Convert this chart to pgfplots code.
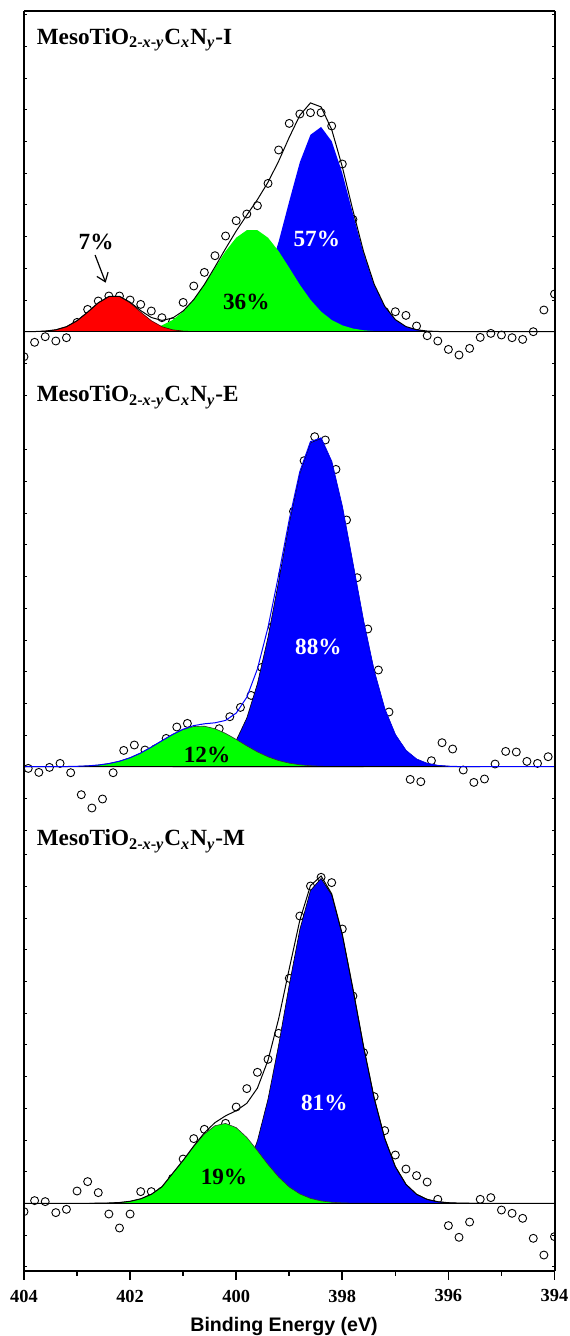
\documentclass[border=0pt]{standalone}
\usepackage{fontspec}
\setmainfont{Liberation Serif}
\setsansfont{Liberation Sans}
\usepackage{pgfplots}
\pgfplotsset{compat=1.18}
\usetikzlibrary{arrows.meta}
\definecolor{pblue}{RGB}{0,0,255}
\definecolor{pgreen}{RGB}{0,255,0}
\definecolor{pred}{RGB}{255,0,0}
\pgfplotsset{
  panel/.style={
    scale only axis, width=265.25pt,
    xmin=394, xmax=404, x dir=reverse,
    xtick=\empty,
    ytick distance=31.7, yticklabels={},
    major tick length=1.4pt,
    ytick style={black, line width=0.4pt},
    axis line style={draw=none},
    clip marker paths=true,
  },
  datapts/.style={only marks, mark=o, mark size=2pt, mark options={black, line width=0.45pt}},
}
\newcommand{\pct}{\bfseries\fontsize{11.6}{12}\selectfont}
\newcommand{\lbl}[1]{\bfseries\fontsize{11.6}{13}\selectfont MesoTiO\textsubscript{2-\textit{x}-\textit{y}}C\textsubscript{\textit{x}}N\textsubscript{\textit{y}}-#1}
\begin{document}
\begin{tikzpicture}
\path[use as bounding box] (0,0) rectangle (284.5pt,-668pt);
% ---------------- Panel 1 (I)
\begin{axis}[panel, name=p1, at={(12pt,-5.5pt)}, anchor=north west, height=206pt, ymin=-91.3, ymax=320.7]
\addplot[datapts] coordinates {(404.0,-25) (403.8,-10.6) (403.6,-5) (403.4,-9.3) (403.2,-6) (403.0,9.3) (402.8,22.3) (402.6,30.7) (402.4,35.7) (402.2,35.7) (402.0,31.7) (401.8,27.3) (401.6,20.7) (401.4,14) (401.2,10) (401.0,29.3) (400.8,45.7) (400.6,59.3) (400.4,76) (400.2,95.7) (400.0,111) (399.8,117.7) (399.6,126) (399.4,148.3) (399.2,181.7) (399.0,208.3) (398.8,217.7) (398.6,219) (398.4,219) (398.2,205.7) (398.0,167.7) (397.8,112.3) (397.6,60) (397.4,35) (397.2,20) (397.0,20) (396.8,16.3) (396.6,5.7) (396.4,-4) (396.2,-9.3) (396.0,-17.7) (395.8,-23.3) (395.6,-16.7) (395.4,-5.7) (395.2,-1.7) (395.0,-3.3) (394.8,-6) (394.6,-7.7) (394.4,0) (394.2,21.7) (394.0,37.7)};
\addplot[draw=none, fill=pblue] coordinates {(401.2,0) (401.0,0.02) (400.8,0.08) (400.6,0.3) (400.4,0.94) (400.2,2.64) (400.0,6.68) (399.8,15.1) (399.6,30.6) (399.4,55.5) (399.2,90.0) (399.0,130.5) (398.8,169.5) (398.6,196.9) (398.4,204.7) (398.2,190.5) (398.0,158.6) (397.8,118.1) (397.6,78.7) (397.4,47.0) (397.2,25.1) (397.0,12.0) (396.8,5.12) (396.6,1.96) (396.4,0.67) (396.2,0.21) (396.0,0.06) (395.8,0)} \closedcycle;
\addplot[draw=none, fill=pgreen] coordinates {(402.6,0) (402.4,0.09) (402.2,0.25) (402.0,0.62) (401.8,1.46) (401.6,3.16) (401.4,6.31) (401.2,11.7) (401.0,20.1) (400.8,31.9) (400.6,46.9) (400.4,63.9) (400.2,80.5) (400.0,94.0) (399.8,101.5) (399.6,101.5) (399.4,94.0) (399.2,80.5) (399.0,63.9) (398.8,46.9) (398.6,31.9) (398.4,20.1) (398.2,11.7) (398.0,6.31) (397.8,3.16) (397.6,1.46) (397.4,0.62) (397.2,0.25) (397.0,0.09) (396.8,0)} \closedcycle;
\addplot[fill=pred, draw=black!70!red, line width=0.3pt] coordinates {(404.0,0) (403.8,0.15) (403.6,0.6) (403.4,1.9) (403.2,5.0) (403.0,11.0) (402.8,19.6) (402.6,28.9) (402.4,35.1) (402.2,35.1) (402.0,28.9) (401.8,19.6) (401.6,11.0) (401.4,5.0) (401.2,1.9) (401.0,0.6) (400.8,0.15) (400.6,0)} \closedcycle;
\addplot[black, line width=0.75pt] coordinates {(394,0) (404,0)};
\addplot[black, line width=0.5pt] coordinates {(404.0,0) (403.8,0.15) (403.6,0.6) (403.4,1.9) (403.2,5.0) (403.0,11.0) (402.8,19.6) (402.6,28.9) (402.4,35.2) (402.2,35.4) (402.0,29.5) (401.8,21.1) (401.6,14.2) (401.4,11.3) (401.2,13.6) (401.0,20.7) (400.8,32.1) (400.6,47.2) (400.4,64.8) (400.2,83.1) (400.0,100.7) (399.8,116.6) (399.6,132.1) (399.4,149.5) (399.2,170.5) (399.0,194.4) (398.8,216.4) (398.6,228.8) (398.4,224.8) (398.2,202.2) (398.0,164.9) (397.8,121.3) (397.6,80.2) (397.4,47.6) (397.2,25.4) (397.0,12.1) (396.8,5.12) (396.6,1.96) (396.4,0.67) (396.2,0.21) (396.0,0.06) (395.8,0) (394.0,0)};
\node[font=\pct] at (axis cs:402.64,90) {7\%};
\node[font=\pct] at (axis cs:399.81,30) {36\%};
\node[font=\pct, text=white] at (axis cs:398.48,92.7) {57\%};
\draw[-{Straight Barb[length=4pt,width=6pt]}, line width=0.6pt] (axis cs:402.66,76.7) -- (axis cs:402.46,49);
\end{axis}
% ---------------- Panel 2 (E)
\begin{axis}[panel, name=p2, at={(12pt,-211.5pt)}, anchor=north west, height=204.5pt, ymin=-65.3, ymax=343.7]
\addplot[datapts] coordinates {(403.92,-1.7) (403.72,-5.7) (403.52,-0.7) (403.32,3.3) (403.12,-6) (402.92,-28) (402.72,-41.3) (402.52,-32.3) (402.32,-6) (402.12,16.3) (401.92,21.7) (401.72,16.7) (401.52,18) (401.32,28.3) (401.12,39.7) (400.92,43.3) (400.72,36) (400.52,35) (400.32,38) (400.12,50) (399.92,59.3) (399.72,71.3) (399.52,99.3) (399.32,140) (399.12,193.3) (398.92,255.3) (398.72,306) (398.52,330) (398.32,326.7) (398.12,297.3) (397.92,246.7) (397.72,189) (397.52,137.7) (397.32,96.7) (397.12,54.7) (396.92,15) (396.72,-12.7) (396.52,-15) (396.32,6) (396.12,24) (395.92,17.7) (395.72,-3.3) (395.52,-15.7) (395.32,-12.3) (395.12,2.7) (394.92,15.3) (394.72,14.7) (394.52,5.3) (394.32,3.3) (394.12,10)};
\addplot[fill=pblue, draw=black, line width=0.3pt] coordinates {(401.2,0) (401.0,0.33) (400.8,0.93) (400.6,2.44) (400.4,5.88) (400.2,13.0) (400.0,26.3) (399.8,48.7) (399.6,83.0) (399.4,129.5) (399.2,185.5) (399.0,243.6) (398.8,293.3) (398.6,324.0) (398.4,328.3) (398.2,305.0) (398.0,259.9) (397.8,203.1) (397.6,145.6) (397.4,95.7) (397.2,57.7) (397.0,31.9) (396.8,16.2) (396.6,7.52) (396.4,3.21) (396.2,1.25) (396.0,0.45) (395.8,0.15) (395.6,0.05) (395.4,0)} \closedcycle;
\addplot[fill=pgreen, draw=black!80, line width=0.3pt] coordinates {(404.0,0) (403.6,0.02) (403.4,0.06) (403.2,0.17) (403.0,0.39) (402.8,0.83) (402.6,1.67) (402.4,3.14) (402.2,5.51) (402.0,9.0) (401.8,13.7) (401.6,19.6) (401.4,26.0) (401.2,32.2) (401.0,37.2) (400.8,40.2) (400.6,40.5) (400.4,38.0) (400.2,33.3) (400.0,27.3) (399.8,20.8) (399.6,14.8) (399.4,9.85) (399.2,6.11) (399.0,3.53) (398.8,1.91) (398.6,0.96) (398.4,0.45) (398.2,0.2) (398.0,0.08) (397.8,0.03) (397.6,0)} \closedcycle;
\addplot[black, line width=0.75pt] coordinates {(394,0) (404,0)};
\addplot[pblue, line width=0.5pt] coordinates {(404.0,0) (403.8,0.01) (403.6,0.02) (403.4,0.06) (403.2,0.17) (403.0,0.39) (402.8,0.83) (402.6,1.67) (402.4,3.14) (402.2,5.51) (402.0,9.0) (401.8,13.7) (401.6,19.6) (401.4,26.0) (401.2,32.2) (401.0,37.5) (400.8,41.1) (400.6,42.9) (400.4,43.9) (400.2,46.3) (400.0,53.6) (399.8,69.5) (399.6,97.8) (399.4,139.4) (399.2,191.6) (399.0,247.1) (398.8,295.2) (398.6,325.0) (398.4,328.8) (398.2,305.2) (398.0,260.0) (397.8,203.1) (397.6,145.6) (397.4,95.7) (397.2,57.7) (397.0,31.9) (396.8,16.2) (396.6,7.52) (396.4,3.21) (396.2,1.25) (396.0,0.45) (395.8,0.15) (395.6,0.05) (395.4,0) (394.0,0)};
\node[font=\pct] at (axis cs:400.55,11.7) {12\%};
\node[font=\pct, text=white] at (axis cs:398.45,120) {88\%};
\end{axis}
% ---------------- Panel 3 (M)
\begin{axis}[panel, name=p3, at={(12pt,-416pt)}, anchor=north west, height=219.35pt, ymin=-67.4, ymax=371.3]
\addplot[datapts] coordinates {(404.0,-8.3) (403.8,2.7) (403.6,1.7) (403.4,-9.3) (403.2,-6) (403.0,12.3) (402.8,21.7) (402.6,10.7) (402.4,-10.7) (402.2,-24.7) (402.0,-10.7) (401.8,11.7) (401.6,11.7) (401.4,12) (401.2,25) (401.0,44.3) (400.8,64.7) (400.6,74) (400.4,72) (400.2,80) (400.0,96.3) (399.8,114.7) (399.6,131) (399.4,144) (399.2,170) (399.0,225) (398.8,287.3) (398.6,317.3) (398.4,326) (398.2,320.7) (398.0,274.3) (397.8,207.3) (397.6,150.7) (397.4,106.7) (397.2,72.7) (397.0,48.3) (396.8,34.3) (396.6,27.7) (396.4,21.3) (396.2,4) (396.0,-22.3) (395.8,-34) (395.6,-18.7) (395.4,4) (395.2,5.7) (395.0,-6.7) (394.8,-10) (394.6,-15) (394.4,-35) (394.2,-51.7) (394.0,-33.3)};
\addplot[fill=pblue, draw=black, line width=0.3pt] coordinates {(401.2,0) (401.0,0.12) (400.8,0.4) (400.6,1.17) (400.4,3.14) (400.2,7.64) (400.0,16.9) (399.8,34.1) (399.6,62.5) (399.4,104.3) (399.2,158.2) (399.0,218.3) (398.8,273.9) (398.6,312.8) (398.4,324.9) (398.2,308.4) (398.0,268.6) (397.8,214.5) (397.6,157.1) (397.4,105.5) (397.2,65.0) (397.0,36.7) (396.8,19.0) (396.6,9.05) (396.4,3.94) (396.2,1.58) (396.0,0.58) (395.8,0.19) (395.6,0.06) (395.4,0)} \closedcycle;
\addplot[fill=pgreen, draw=black!80, line width=0.3pt] coordinates {(402.8,0) (402.6,0.1) (402.4,0.3) (402.2,0.8) (402.0,2.0) (401.8,4.5) (401.6,9.0) (401.4,16.5) (401.2,29.8) (401.0,42.9) (400.8,56.9) (400.6,69.3) (400.4,77.6) (400.2,79.9) (400.0,75.7) (399.8,65.9) (399.6,52.7) (399.4,38.8) (399.2,26.3) (399.0,16.3) (398.8,9.34) (398.6,4.91) (398.4,2.38) (398.2,1.06) (398.0,0.43) (397.8,0.16) (397.6,0.06) (397.4,0)} \closedcycle;
\addplot[black, line width=0.75pt] coordinates {(394,0) (404,0)};
\addplot[black, line width=0.5pt] coordinates {(404.0,0) (402.8,0) (402.6,0.1) (402.4,0.3) (402.2,0.8) (402.0,2.0) (401.8,4.5) (401.6,9.0) (401.4,16.5) (401.2,29.8) (401.0,43.0) (400.8,57.3) (400.6,70.5) (400.4,80.7) (400.2,87.5) (400.0,92.6) (399.8,100.0) (399.6,115.2) (399.4,143.1) (399.2,184.5) (399.0,234.6) (398.8,283.2) (398.6,317.7) (398.4,327.3) (398.2,309.5) (398.0,269.0) (397.8,214.7) (397.6,157.2) (397.4,105.5) (397.2,65.0) (397.0,36.7) (396.8,19.0) (396.6,9.05) (396.4,3.94) (396.2,1.58) (396.0,0.58) (395.8,0.19) (395.6,0.06) (395.4,0) (394.0,0)};
\node[font=\pct] at (axis cs:400.23,26.6) {19\%};
\node[font=\pct, text=white] at (axis cs:398.34,100.6) {81\%};
\end{axis}
% ---------------- x ticks of the bottom panel
\begin{axis}[scale only axis, width=265.25pt, height=219.35pt, at={(12pt,-416pt)}, anchor=north west,
  xmin=394, xmax=404, x dir=reverse, ymin=0, ymax=1, ytick=\empty,
  xtick={394,396,398,400,402,404}, minor xtick={395,397,399,401,403},
  xtick pos=left, tick align=outside, major tick length=4.5pt, minor tick length=2.5pt,
  every tick/.style={black, line width=0.8pt}, axis line style={draw=none},
  xticklabel style={font=\bfseries\fontsize{9.2}{10}\selectfont, yshift=-1.5pt},
  /pgf/number format/assume math mode=true, /pgf/number format/set thousands separator={}]
\end{axis}
% ---------------- frame
\draw[line width=0.9pt] (p1.north west) -- (p1.north east);
\draw[line width=1pt] (p1.north west) -- (p3.south west);
\draw[line width=1pt] (p1.north east) -- (p3.south east);
\draw[line width=0.9pt] (p3.south west) -- (p3.south east);
% ---------------- texts
\node[anchor=base west, inner sep=0pt] at (18.2pt,-22.2pt) {\lbl{I}};
\node[anchor=base west, inner sep=0pt] at (18.2pt,-200.8pt) {\lbl{E}};
\node[anchor=base west, inner sep=0pt] at (18.2pt,-422.8pt) {\lbl{M}};
\node[anchor=base, inner sep=0pt, font=\sffamily\bfseries\fontsize{9.8}{11}\selectfont] at (142pt,-665.5pt) {Binding Energy (eV)};
\end{tikzpicture}
\end{document}
